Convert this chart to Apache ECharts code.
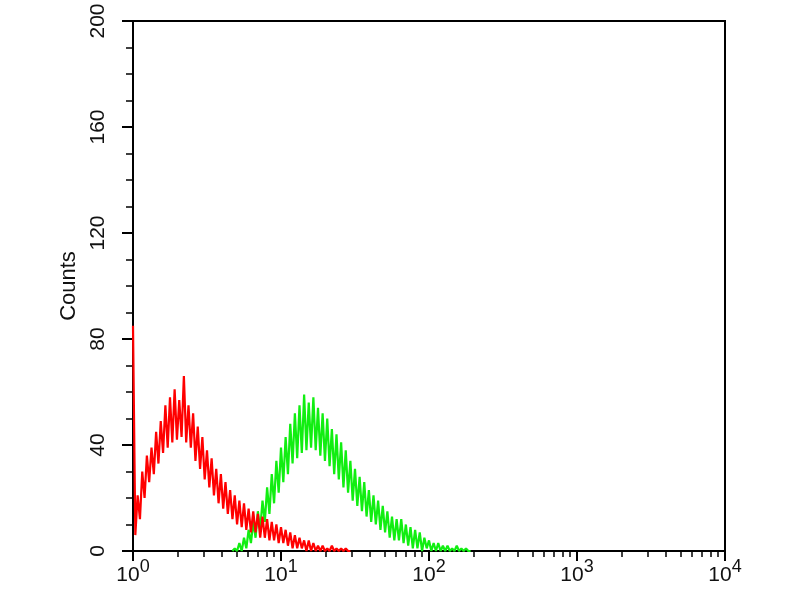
<!DOCTYPE html>
<html>
<head>
<meta charset="utf-8">
<script src="https://cdn.jsdelivr.net/npm/echarts@6/dist/echarts.min.js"></script>
<style>html,body{margin:0;padding:0;background:#fff}#c{width:800px;height:600px}</style>
</head>
<body>
<div id="c"></div>
<script>
// Histogram channels: 1024 channels spanning 4 log decades (256 per decade)
const binWidth = 4;
const redStart = 0;
const redCounts = [85,6,21,12,30,20,36,26,39,29,45,33,49,37,55,39,58,41,61,42,57,43,66,41,55,39,52,34,47,31,43,27,38,24,35,21,31,18,29,16,26,14,23,12,21,10,19,9,18,8,16,7,15,7,14,5,13,5,12,4,11,4,10,3,9,3,8,2,7,1,6,1,5,1,4,0,4,0,3,0,2,0,2,0,1,0,2,0,1,0,1,0,1,0,0];
const greenStart = 172;
const greenCounts = [0,1,0,3,0,5,1,8,3,11,5,15,8,19,11,24,14,29,18,34,22,39,26,43,29,48,33,52,35,55,37,59,38,56,39,58,38,54,36,52,34,50,32,46,29,44,27,41,24,38,22,34,19,31,17,28,15,26,13,23,11,21,10,19,8,17,7,15,5,13,4,12,4,12,3,10,2,9,1,8,1,7,0,5,1,4,0,3,0,3,0,2,0,2,0,1,0,2,0,1,0,1,0,0];
const decadeExponents = ['0','1','2','3','4'];
const yTicks = [0,40,80,120,160,200];

function toPairs(start, counts){ return counts.map((v,i)=>[start + i*binWidth, v]); }
const minorTickChannels = [];
for (let d = 0; d < 4; d++) for (let k = 2; k <= 9; k++) minorTickChannels.push((d + Math.log10(k)) * 256);

const chart = echarts.init(document.getElementById('c'), null, {renderer:'canvas'});
const font = 'Liberation Sans, Arial, sans-serif';
chart.setOption({
  animation:false,
  backgroundColor:'#fff',
  grid:{left:133, top:21, right:75, bottom:49, show:true, borderColor:'#000', borderWidth:2, backgroundColor:'transparent'},
  xAxis:[{
    type:'value', min:0, max:1024, interval:256,
    axisLine:{show:true, lineStyle:{color:'#000', width:2}},
    axisTick:{show:true, length:10, lineStyle:{color:'#000', width:2}},
    splitLine:{show:false},
    axisLabel:{margin:7, color:'#111', fontFamily:font,
      formatter:(v)=>'{b|10}{e|' + decadeExponents[Math.round(v/256)] + '}',
      rich:{
        b:{fontSize:21, fontFamily:font, color:'#111', lineHeight:28, verticalAlign:'bottom'},
        e:{fontSize:18, fontFamily:font, color:'#111', verticalAlign:'top'}
      }}
  },{
    type:'value', min:0, max:1024, position:'bottom',
    axisLine:{show:false}, splitLine:{show:false}, axisLabel:{show:false},
    axisTick:{show:true, length:6, customValues:minorTickChannels, lineStyle:{color:'#000', width:1.5}}
  }],
  yAxis:{
    type:'value', min:0, max:200, interval:40,
    name:'Counts', nameLocation:'middle', nameRotate:90, nameGap:51,
    nameTextStyle:{fontSize:22, fontFamily:font, color:'#111'},
    axisLine:{show:true, lineStyle:{color:'#000', width:2}},
    axisTick:{show:true, length:11, lineStyle:{color:'#000', width:2}},
    minorTick:{show:true, splitNumber:4, length:7, lineStyle:{color:'#000', width:1.5}},
    splitLine:{show:false},
    axisLabel:{rotate:90, margin:24, fontSize:21, fontFamily:font, color:'#111',
      formatter:(v)=> yTicks.indexOf(v) >= 0 ? String(v) : ''}
  },
  series:[
    {type:'line', name:'green', data:toPairs(greenStart, greenCounts), showSymbol:false, xAxisIndex:0,
     lineStyle:{color:'#11ee11', width:2.2}, itemStyle:{color:'#11ee11'}},
    {type:'line', name:'red', data:toPairs(redStart, redCounts), showSymbol:false, xAxisIndex:0,
     lineStyle:{color:'#ff0000', width:2.2}, itemStyle:{color:'#ff0000'}}
  ]
});
</script>
</body>
</html>
